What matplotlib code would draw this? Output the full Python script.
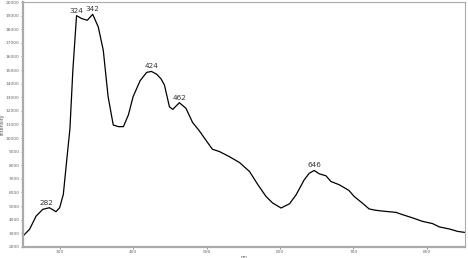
import matplotlib.pyplot as plt

# Spectrum
wavelength = [250, 259, 268, 277, 286, 295, 300, 305, 309.5, 314, 318, 323, 330, 337.6, 345,
              352.6, 359.4, 366, 373, 380, 386.8, 393.6, 400, 409.6, 418.5, 425, 432, 438,
              442.7, 449.5, 454, 463, 472, 481, 490, 499, 508, 517.6, 531, 545, 558.6, 570,
              581, 590, 601.5, 613, 622, 633, 640, 646.7, 653.6, 662.6, 669.4, 680.7, 694,
              701, 712, 721.5, 730.6, 744, 758, 767, 780.8, 794, 808, 817, 830.6, 842, 851]
intensity = [2800, 3290, 4270, 4760, 4880, 4590, 4880, 5860, 8300, 10690, 15000, 19000, 18790,
             18660, 19100, 18170, 16460, 13040, 10960, 10840, 10840, 11700, 13040, 14220, 14830,
             14900, 14700, 14360, 13900, 12300, 12110, 12600, 12190, 11150, 10550, 9860, 9180,
             9010, 8640, 8200, 7540, 6570, 5710, 5230, 4860, 5170, 5830, 6930, 7420, 7620, 7370,
             7230, 6810, 6570, 6150, 5710, 5230, 4790, 4690, 4610, 4540, 4370, 4130, 3880, 3710,
             3470, 3320, 3140, 3070]

peak_labels = ['282', '324', '342', '424', '462', '646']
peak_x = [282, 323, 345, 425, 463, 646.7]
peak_y = [4880, 19000, 19100, 14900, 12600, 7620]

fig = plt.figure(figsize=(4.68, 2.58), dpi=100)
ax = fig.add_axes([0.049, 0.043, 0.9446, 0.949])
ax.plot(wavelength, intensity, color='black', linewidth=0.9)

for lab, px, py in zip(peak_labels, peak_x, peak_y):
    ax.annotate(lab, (px, py), xytext=(0, 1.5), textcoords='offset points',
                ha='center', va='bottom', fontsize=5.2, color='#333333')

ax.set_xlim(250, 852)
ax.set_ylim(2000, 20000)
ax.set_xticks([300, 400, 500, 600, 700, 800])
ax.set_yticks(range(2000, 20001, 1000))
ax.tick_params(labelsize=3.2, colors='#666666', length=1.5, width=0.5, pad=1)
ax.set_xlabel('nm', fontsize=3.2, color='#555555', labelpad=0.3)
ax.set_ylabel('Intensity', fontsize=3.5, color='#555555', labelpad=1)

for side in ['top', 'right']:
    ax.spines[side].set_color('#aaaaaa')
    ax.spines[side].set_linewidth(0.8)
for side in ['left', 'bottom']:
    ax.spines[side].set_color('#aaaaaa')
    ax.spines[side].set_linewidth(1.6)

plt.savefig('out.png', dpi=100)
